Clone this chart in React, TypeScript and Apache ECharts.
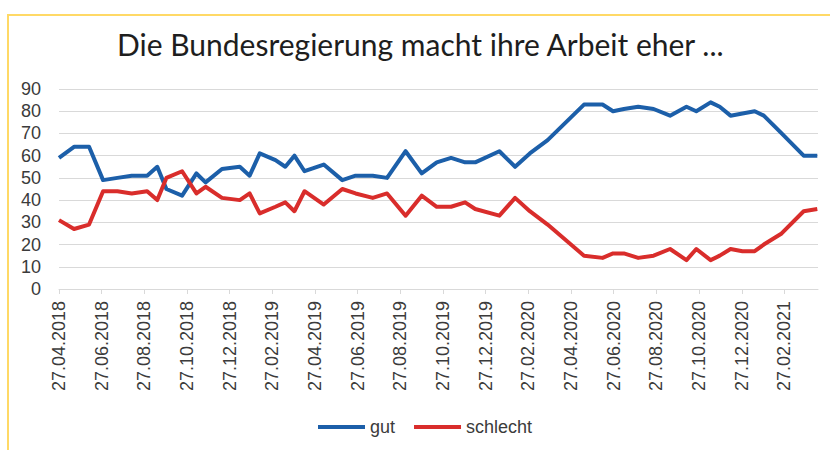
import React, { useEffect, useRef } from "react";
import * as echarts from "echarts";

const titleText = "Die Bundesregierung macht ihre Arbeit eher ...";
const seriesNames = ["gut", "schlecht"];

// survey dates (dd.mm.yyyy)
const dates = [
  "27.04.2018", "18.05.2018", "09.06.2018", "29.06.2018", "19.07.2018", "09.08.2018",
  "31.08.2018", "15.09.2018", "28.09.2018", "20.10.2018", "10.11.2018", "23.11.2018",
  "16.12.2018", "11.01.2019", "25.01.2019", "09.02.2019", "01.03.2019", "15.03.2019",
  "28.03.2019", "12.04.2019", "09.05.2019", "05.06.2019", "24.06.2019", "18.07.2019",
  "08.08.2019", "04.09.2019", "27.09.2019", "18.10.2019", "08.11.2019", "28.11.2019",
  "12.12.2019", "16.01.2020", "08.02.2020", "29.02.2020", "24.03.2020", "15.05.2020",
  "11.06.2020", "26.06.2020", "11.07.2020", "01.08.2020", "23.08.2020", "16.09.2020",
  "09.10.2020", "23.10.2020", "13.11.2020", "26.11.2020", "11.12.2020", "28.12.2020",
  "15.01.2021", "28.01.2021", "23.02.2021", "24.03.2021", "13.04.2021",
];

const gut = [
  59, 64, 64, 49, 50, 51, 51, 55, 45, 42, 52, 48,
  54, 55, 51, 61, 58, 55, 60, 53, 56, 49, 51, 51,
  50, 62, 52, 57, 59, 57, 57, 62, 55, 61, 67, 83,
  83, 80, 81, 82, 81, 78, 82, 80, 84, 82, 78, 79,
  80, 78, 70, 60, 60,
];

const schlecht = [
  31, 27, 29, 44, 44, 43, 44, 40, 50, 53, 43, 46,
  41, 40, 43, 34, 37, 39, 35, 44, 38, 45, 43, 41,
  43, 33, 42, 37, 37, 39, 36, 33, 41, 35, 29, 15,
  14, 16, 16, 14, 15, 18, 13, 18, 13, 15, 18, 17,
  17, 20, 25, 35, 36,
];

const yTicks = [0, 10, 20, 30, 40, 50, 60, 70, 80, 90];
// tick labels every two months, starting 27.04.2018 (month offsets)
const xTickMonths = [0, 2, 4, 6, 8, 10, 12, 14, 16, 18, 20, 22, 24, 26, 28, 30, 32, 34];
const xAxisMaxDate = "14.04.2021";

const START_YEAR = 2018;
const START_MONTH = 4;
const START_DAY = 27;

function toMonths(d: string): number {
  const [dd, mm, yy] = d.split(".").map(Number);
  return (yy - START_YEAR) * 12 + (mm - START_MONTH) + (dd - START_DAY) / 30.44;
}

function monthLabel(v: number): string {
  const m = Math.round(v);
  const total = START_MONTH - 1 + m;
  const year = START_YEAR + Math.floor(total / 12);
  const month = (total % 12) + 1;
  return `${START_DAY}.${month < 10 ? "0" + month : month}.${year}`;
}

export default function App() {
  const ref = useRef<HTMLDivElement>(null);

  useEffect(() => {
    if (!ref.current) return;
    const chart = echarts.init(ref.current, undefined, { renderer: "svg" });
    const xs = dates.map(toMonths);
    const labelColor = "#3b3b3b";
    chart.setOption({
      animation: false,
      backgroundColor: "#ffffff",
      title: {
        text: titleText,
        left: 112,
        top: 24,
        textStyle: {
          fontFamily: "Lato",
          fontSize: 30,
          fontWeight: "normal",
          color: "#1e1e1e",
        },
      },
      graphic: [
        {
          type: "rect",
          shape: { x: 8, y: 15, width: 840, height: 460 },
          style: { fill: "none", stroke: "#ffd966", lineWidth: 2 },
          silent: true,
        },
      ],
      legend: {
        left: 313,
        top: 413,
        itemWidth: 47,
        itemHeight: 4,
        itemGap: 19,
        icon: "rect",
        textStyle: {
          fontFamily: "Liberation Sans",
          fontSize: 18,
          color: labelColor,
        },
        data: seriesNames,
      },
      grid: { left: 59, right: 12, top: 89, bottom: 161, containLabel: false },
      xAxis: {
        type: "value",
        min: 0,
        max: toMonths(xAxisMaxDate),
        interval: 2,
        axisLine: { show: true, lineStyle: { color: "#d9d9d9", width: 1 } },
        axisTick: {
          show: true,
          length: 5,
          lineStyle: { color: "#d9d9d9" },
          customValues: xTickMonths,
        },
        axisLabel: {
          rotate: 90,
          margin: 12,
          fontFamily: "Liberation Sans",
          fontSize: 18,
          color: labelColor,
          customValues: xTickMonths,
          formatter: (v: number) => monthLabel(v),
        },
        splitLine: { show: false },
      },
      yAxis: {
        type: "value",
        min: 0,
        max: 90,
        interval: 10,
        axisLine: { show: false },
        axisTick: { show: false },
        axisLabel: {
          margin: 18,
          fontFamily: "Liberation Sans",
          fontSize: 18,
          color: labelColor,
          customValues: yTicks,
        },
        splitLine: { lineStyle: { color: "#d9d9d9", width: 1 } },
      },
      series: [
        {
          name: seriesNames[0],
          type: "line",
          data: xs.map((x, i) => [x, gut[i]]),
          showSymbol: false,
          symbol: "none",
          lineStyle: { color: "#1c5fa9", width: 4, join: "round" },
          itemStyle: { color: "#1c5fa9" },
        },
        {
          name: seriesNames[1],
          type: "line",
          data: xs.map((x, i) => [x, schlecht[i]]),
          showSymbol: false,
          symbol: "none",
          lineStyle: { color: "#d92d2b", width: 4, join: "round" },
          itemStyle: { color: "#d92d2b" },
        },
      ],
    });
    return () => chart.dispose();
  }, []);

  return (
    <div
      ref={ref}
      style={{ position: "absolute", left: 0, top: 0, width: 830, height: 450 }}
    />
  );
}
